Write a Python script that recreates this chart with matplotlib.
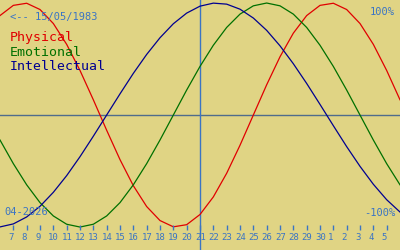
import matplotlib
matplotlib.use('Agg')
import matplotlib.pyplot as plt
import matplotlib.transforms as mtransforms

# days shown: 6 April .. 6 May 2026 (x index), today = 21
days = list(range(6, 37))
physical = [0.888, 0.979, 0.998, 0.942, 0.817, 0.631, 0.398, 0.136, -0.136, -0.398,
            -0.631, -0.817, -0.942, -0.998, -0.979, -0.888, -0.731, -0.520, -0.270, 0.0,
            0.270, 0.520, 0.731, 0.888, 0.979, 0.998, 0.942, 0.817, 0.631, 0.398, 0.136]
emotional = [-0.223, -0.434, -0.623, -0.782, -0.901, -0.975, -1.0, -0.975, -0.901, -0.782,
             -0.623, -0.434, -0.223, 0.0, 0.223, 0.434, 0.623, 0.782, 0.901, 0.975,
             1.0, 0.975, 0.901, 0.782, 0.623, 0.434, 0.223, 0.0, -0.223, -0.434, -0.623]
intellectual = [-0.999, -0.972, -0.910, -0.815, -0.690, -0.541, -0.372, -0.189, 0.0, 0.189,
                0.372, 0.541, 0.690, 0.815, 0.910, 0.972, 0.999, 0.990, 0.945, 0.866,
                0.756, 0.618, 0.458, 0.282, 0.095, -0.095, -0.282, -0.458, -0.618, -0.756, -0.866]
today = 21
tick_days = list(range(7, 36))
tick_labels = [str(d) for d in range(7, 31)] + [str(d) for d in range(1, 6)]

bg = '#e0d484'
txt = '#3a74c4'
mono = 'DejaVu Sans Mono'

fig = plt.figure(figsize=(4, 2.5), dpi=100, facecolor=bg)
ax = fig.add_axes([0, 0, 1, 1])
ax.set_facecolor(bg)
ax.set_xlim(6, 36)
ax.set_ylim(-1.205, 1.027)
ax.axis('off')

ax.axhline(0, color='#4f6c8c', linewidth=1.0)
ax.axvline(today, color='#3a74c4', linewidth=1.0)

ax.plot(days, physical, color='#e00000', linewidth=0.9)
ax.plot(days, emotional, color='#007000', linewidth=0.9)
ax.plot(days, intellectual, color='#000090', linewidth=0.9)

# tick marks and labels along the bottom
trans = mtransforms.blended_transform_factory(ax.transData, ax.transAxes)
ax.vlines(tick_days, 1 - 230 / 250, 1 - 225 / 250, transform=trans, color=txt, linewidth=1)
lab_off = mtransforms.offset_copy(trans, fig=fig, x=-5, y=0, units='dots')
for d, lab in zip(tick_days, tick_labels):
    ax.text(d, 1 - 237 / 250, lab, transform=lab_off, ha='left', va='center',
            fontsize=6.5, color=txt, family=mono)

ax.text(10 / 400, 1 - 17 / 250, '<-- 15/05/1983', transform=ax.transAxes,
        ha='left', va='center', fontsize=7.5, color=txt, family=mono)
for i, (name, col) in enumerate([('Physical', '#e00000'), ('Emotional', '#007000'),
                                 ('Intellectual', '#000090')]):
    ax.text(10 / 400, 1 - (37 + 15 * i) / 250, name, transform=ax.transAxes,
            ha='left', va='center', fontsize=9.5, color=col, family=mono)

ax.text(395 / 400, 1 - 12 / 250, '100%', transform=ax.transAxes,
        ha='right', va='center', fontsize=7.5, color=txt, family=mono)
ax.text(395 / 400, 1 - 213 / 250, '-100%', transform=ax.transAxes,
        ha='right', va='center', fontsize=7.5, color=txt, family=mono)
ax.text(4 / 400, 1 - 212 / 250, '04-2026', transform=ax.transAxes,
        ha='left', va='center', fontsize=7.5, color=txt, family=mono)

fig.savefig('out.png', dpi=100, facecolor=bg)
